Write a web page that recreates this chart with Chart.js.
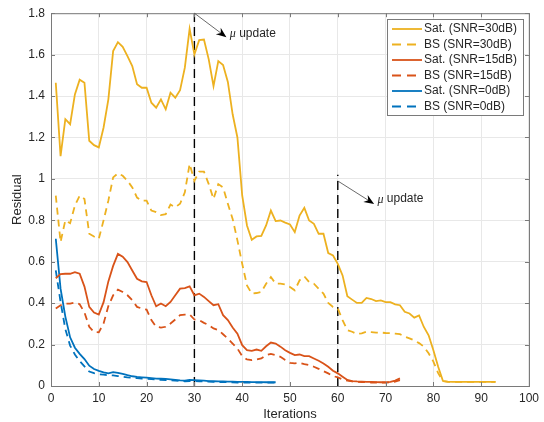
<!DOCTYPE html>
<html>
<head>
<meta charset="utf-8">
<script src="https://cdn.jsdelivr.net/npm/chart.js@4.4.1/dist/chart.umd.min.js"></script>
<style>
  html, body { margin: 0; padding: 0; background: #ffffff; }
  #wrap { width: 544px; height: 422px; }
</style>
</head>
<body>
<div id="wrap"><canvas id="residual"></canvas></div>
<script>
// values, iteration 1..n
const sat30 = [1.464, 1.11, 1.288, 1.264, 1.408, 1.479, 1.464, 1.184, 1.163, 1.152,
	1.248, 1.384, 1.617, 1.66, 1.638, 1.593, 1.545, 1.457, 1.44, 1.44,
	1.368, 1.344, 1.384, 1.336, 1.416, 1.392, 1.428, 1.537, 1.724, 1.601,
	1.67, 1.673, 1.577, 1.448, 1.569, 1.55, 1.468, 1.312, 1.2, 0.92,
	0.775, 0.706, 0.722, 0.725, 0.775, 0.847, 0.796, 0.799, 0.789, 0.78,
	0.743, 0.823, 0.86, 0.799, 0.783, 0.735, 0.735, 0.642, 0.63, 0.59,
	0.534, 0.433, 0.417, 0.401, 0.401, 0.425, 0.42, 0.41, 0.413, 0.405,
	0.405, 0.394, 0.39, 0.358, 0.35, 0.33, 0.341, 0.285, 0.245, 0.173,
	0.093, 0.024, 0.021, 0.02, 0.02, 0.02, 0.02, 0.02, 0.02, 0.02,
	0.02, 0.02, 0.02];
const bs30 = [0.919, 0.695, 0.8, 0.786, 0.871, 0.919, 0.903, 0.735, 0.722, 0.711,
	0.8, 0.895, 1.007, 1.027, 1.015, 0.991, 0.959, 0.91, 0.895, 0.895,
	0.847, 0.84, 0.825, 0.83, 0.876, 0.863, 0.88, 0.935, 1.072, 0.991,
	1.035, 1.035, 0.975, 0.903, 0.975, 0.959, 0.88, 0.807, 0.703, 0.59,
	0.486, 0.446, 0.449, 0.454, 0.494, 0.526, 0.494, 0.494, 0.49, 0.478,
	0.462, 0.51, 0.529, 0.502, 0.494, 0.47, 0.446, 0.401, 0.382, 0.374,
	0.318, 0.27, 0.262, 0.251, 0.254, 0.262, 0.26, 0.258, 0.258, 0.256,
	0.255, 0.253, 0.25, 0.238, 0.23, 0.22, 0.207, 0.19, 0.158, 0.118,
	0.062, 0.024, 0.02, 0.02, 0.02, 0.02, 0.02, 0.02, 0.02, 0.02,
	0.02, 0.02, 0.02];
const sat15 = [0.52, 0.54, 0.542, 0.542, 0.55, 0.542, 0.48, 0.382, 0.355, 0.345,
	0.405, 0.505, 0.58, 0.638, 0.624, 0.598, 0.558, 0.518, 0.505, 0.502,
	0.438, 0.385, 0.398, 0.385, 0.406, 0.438, 0.47, 0.473, 0.481, 0.438,
	0.446, 0.43, 0.41, 0.39, 0.395, 0.342, 0.318, 0.282, 0.253, 0.197,
	0.173, 0.17, 0.176, 0.17, 0.192, 0.21, 0.205, 0.19, 0.173, 0.16,
	0.149, 0.152, 0.144, 0.144, 0.133, 0.122, 0.109, 0.093, 0.074, 0.061,
	0.045, 0.029, 0.024, 0.022, 0.021, 0.02, 0.02, 0.019, 0.018, 0.018,
	0.02, 0.026, 0.037];
const bs15 = [0.374, 0.39, 0.398, 0.398, 0.403, 0.395, 0.355, 0.286, 0.261, 0.259,
	0.302, 0.386, 0.438, 0.465, 0.454, 0.438, 0.414, 0.382, 0.374, 0.369,
	0.318, 0.286, 0.282, 0.286, 0.302, 0.321, 0.342, 0.345, 0.345, 0.321,
	0.318, 0.305, 0.294, 0.278, 0.27, 0.25, 0.229, 0.205, 0.181, 0.144,
	0.128, 0.125, 0.128, 0.133, 0.149, 0.155, 0.149, 0.141, 0.125, 0.112,
	0.109, 0.112, 0.106, 0.101, 0.093, 0.083, 0.072, 0.061, 0.048, 0.042,
	0.032, 0.026, 0.022, 0.02, 0.019, 0.018, 0.017, 0.017, 0.016, 0.016,
	0.018, 0.021, 0.028];
const sat0 = [0.711, 0.47, 0.335, 0.235, 0.185, 0.155, 0.13, 0.098, 0.082, 0.073,
	0.066, 0.061, 0.067, 0.063, 0.058, 0.052, 0.047, 0.044, 0.042, 0.04,
	0.038, 0.036, 0.035, 0.034, 0.032, 0.03, 0.027, 0.026, 0.029, 0.028,
	0.027, 0.026, 0.024, 0.023, 0.022, 0.022, 0.021, 0.021, 0.02, 0.02,
	0.02, 0.019, 0.019, 0.019, 0.018, 0.018, 0.018];
const bs0 = [0.558, 0.406, 0.275, 0.195, 0.152, 0.12, 0.095, 0.07, 0.062, 0.057,
	0.055, 0.052, 0.051, 0.048, 0.045, 0.042, 0.04, 0.038, 0.036, 0.035,
	0.033, 0.031, 0.03, 0.029, 0.028, 0.026, 0.024, 0.023, 0.024, 0.024,
	0.023, 0.022, 0.021, 0.02, 0.019, 0.019, 0.018, 0.018, 0.017, 0.017,
	0.017, 0.016, 0.016, 0.016, 0.016, 0.016, 0.016];

const seriesLabels = ['Sat. (SNR=30dB)', 'BS (SNR=30dB)', 'Sat. (SNR=15dB)',
	'BS (SNR=15dB)', 'Sat. (SNR=0dB)', 'BS (SNR=0dB)'];

// mu update markers: iteration, top of the dashed line
const updateIters = [30, 60];
const updateTops = [1.8, 1.02];
// arrow tail (on the marker) -> head, and label position
const arrowTails = [[30, 1.8], [60, 0.99]];
const arrowHeads = [[36.7, 1.684], [67.6, 0.879]];
const arrowText = [[37.4, 1.703], [68.3, 0.905]];

const xTicks = [0, 10, 20, 30, 40, 50, 60, 70, 80, 90, 100];
const yMax = 1.8;

const YELLOW = '#EDB120';
const ORANGE = '#D95319';
const BLUE = '#0072BD';
const FONT = '"Liberation Sans", Arial, sans-serif';
const TXT = '#262626';

function pts(arr){
	return arr.map((v, i) => ({ x: i + 1, y: v }));
}

function series(label, arr, color, dashed){
	return {
		label: label,
		data: pts(arr),
		borderColor: color,
		backgroundColor: color,
		borderWidth: 1.8,
		borderDash: dashed ? [7, 5] : [],
		pointRadius: 0,
		tension: 0,
	};
}

const datasets = [
	series(seriesLabels[0], sat30, YELLOW, false),
	series(seriesLabels[1], bs30, YELLOW, true),
	series(seriesLabels[2], sat15, ORANGE, false),
	series(seriesLabels[3], bs15, ORANGE, true),
	series(seriesLabels[4], sat0, BLUE, false),
	series(seriesLabels[5], bs0, BLUE, true),
];

updateIters.forEach((it, k) => {
	datasets.push({
		label: 'update' + k,
		data: [{ x: it, y: 0 }, { x: it, y: updateTops[k] }],
		borderColor: '#000000',
		borderWidth: 1.4,
		borderDash: [9, 5],
		pointRadius: 0,
	});
});

// box, inward ticks, arrows and the legend, MATLAB style
const matlabLook = {
	id: 'matlabLook',
	afterDatasetsDraw(chart){
		const ctx = chart.ctx;
		const a = chart.chartArea;
		const xs = chart.scales.x;
		const ys = chart.scales.y;
		ctx.save();

		// axes box
		ctx.strokeStyle = '#7a7a7a';
		ctx.lineWidth = 1;
		ctx.setLineDash([]);
		ctx.strokeRect(a.left + 0.5, a.top + 0.5, a.right - a.left, a.bottom - a.top);

		// inward ticks
		const tl = 4;
		ctx.beginPath();
		xTicks.forEach(t => {
			const px = Math.round(xs.getPixelForValue(t)) + 0.5;
			ctx.moveTo(px, a.bottom); ctx.lineTo(px, a.bottom - tl);
			ctx.moveTo(px, a.top); ctx.lineTo(px, a.top + tl);
		});
		for (let v = 0; v <= yMax + 0.001; v += 0.2) {
			const py = Math.round(ys.getPixelForValue(v)) + 0.5;
			ctx.moveTo(a.left, py); ctx.lineTo(a.left + tl, py);
			ctx.moveTo(a.right, py); ctx.lineTo(a.right - tl, py);
		}
		ctx.stroke();

		// arrows + "mu update"
		for (let k = 0; k < arrowTails.length; k++) {
			const x0 = xs.getPixelForValue(arrowTails[k][0]);
			const y0 = ys.getPixelForValue(arrowTails[k][1]);
			const x1 = xs.getPixelForValue(arrowHeads[k][0]);
			const y1 = ys.getPixelForValue(arrowHeads[k][1]);
			const ang = Math.atan2(y1 - y0, x1 - x0);
			ctx.strokeStyle = '#444';
			ctx.lineWidth = 0.8;
			ctx.beginPath();
			ctx.moveTo(x0, y0);
			ctx.lineTo(x1 - 6 * Math.cos(ang), y1 - 6 * Math.sin(ang));
			ctx.stroke();
			ctx.fillStyle = '#000';
			ctx.beginPath();
			ctx.moveTo(x1, y1);
			ctx.lineTo(x1 - 11 * Math.cos(ang - 0.38), y1 - 11 * Math.sin(ang - 0.38));
			ctx.lineTo(x1 - 7 * Math.cos(ang), y1 - 7 * Math.sin(ang));
			ctx.lineTo(x1 - 11 * Math.cos(ang + 0.38), y1 - 11 * Math.sin(ang + 0.38));
			ctx.closePath();
			ctx.fill();

			const tx = xs.getPixelForValue(arrowText[k][0]);
			const ty = ys.getPixelForValue(arrowText[k][1]);
			ctx.fillStyle = TXT;
			ctx.textBaseline = 'middle';
			ctx.textAlign = 'left';
			ctx.font = 'italic 12px "Liberation Serif", serif';
			ctx.fillText('\u03bc', tx, ty + 1);
			const mw = ctx.measureText('\u03bc').width;
			ctx.font = '12px ' + FONT;
			ctx.fillText(' update', tx + mw, ty);
		}

		// legend box, top right
		const lx = 387, ly = 19, lw = 136, lh = 96;
		ctx.fillStyle = '#ffffff';
		ctx.fillRect(lx, ly, lw, lh);
		ctx.strokeStyle = '#7a7a7a';
		ctx.lineWidth = 1;
		ctx.strokeRect(lx + 0.5, ly + 0.5, lw, lh);
		ctx.font = '12px ' + FONT;
		ctx.textBaseline = 'middle';
		for (let i = 0; i < seriesLabels.length; i++) {
			const ds = chart.data.datasets[i];
			const ry = ly + 10 + i * 15.5;
			ctx.strokeStyle = ds.borderColor;
			ctx.lineWidth = 1.8;
			ctx.setLineDash(ds.borderDash.length ? [9, 6] : []);
			ctx.beginPath();
			ctx.moveTo(lx + 5, ry);
			ctx.lineTo(lx + 35, ry);
			ctx.stroke();
			ctx.setLineDash([]);
			ctx.fillStyle = TXT;
			ctx.fillText(ds.label, lx + 37, ry);
		}
		ctx.restore();
	}
};

new Chart(
	document.getElementById('residual'),
	{
		type: 'line',
		data: { datasets: datasets },
		options: {
			responsive: true,
			maintainAspectRatio: false,
			animation: false,
			devicePixelRatio: 1,
			layout: { padding: { top: 12, right: 14, left: 0, bottom: 0 } },
			plugins: {
				legend: { display: false },
				tooltip: { enabled: false },
			},
			scales: {
				x: {
					type: 'linear',
					min: 0,
					max: 100,
					afterFit: s => { s.height = 36; },
					ticks: {
						stepSize: 10,
						padding: 5,
						color: TXT,
						font: { family: FONT, size: 12 },
					},
					grid: { color: '#e8e8e8', drawTicks: false },
					border: { display: false },
					title: {
						display: true,
						text: 'Iterations',
						color: TXT,
						font: { family: FONT, size: 13 },
						padding: { top: 0, bottom: 0 },
					},
				},
				y: {
					type: 'linear',
					min: 0,
					max: yMax,
					afterFit: s => { s.width = 51; },
					ticks: {
						stepSize: 0.2,
						padding: 6,
						color: TXT,
						font: { family: FONT, size: 12 },
						callback: v => String(Math.round(v * 10) / 10),
					},
					grid: { color: '#e8e8e8', drawTicks: false },
					border: { display: false },
					title: {
						display: true,
						text: 'Residual',
						color: TXT,
						font: { family: FONT, size: 13 },
						padding: { top: 10, bottom: 0 },
					},
				},
			},
		},
		plugins: [matlabLook],
	}
);
</script>
</body>
</html>
